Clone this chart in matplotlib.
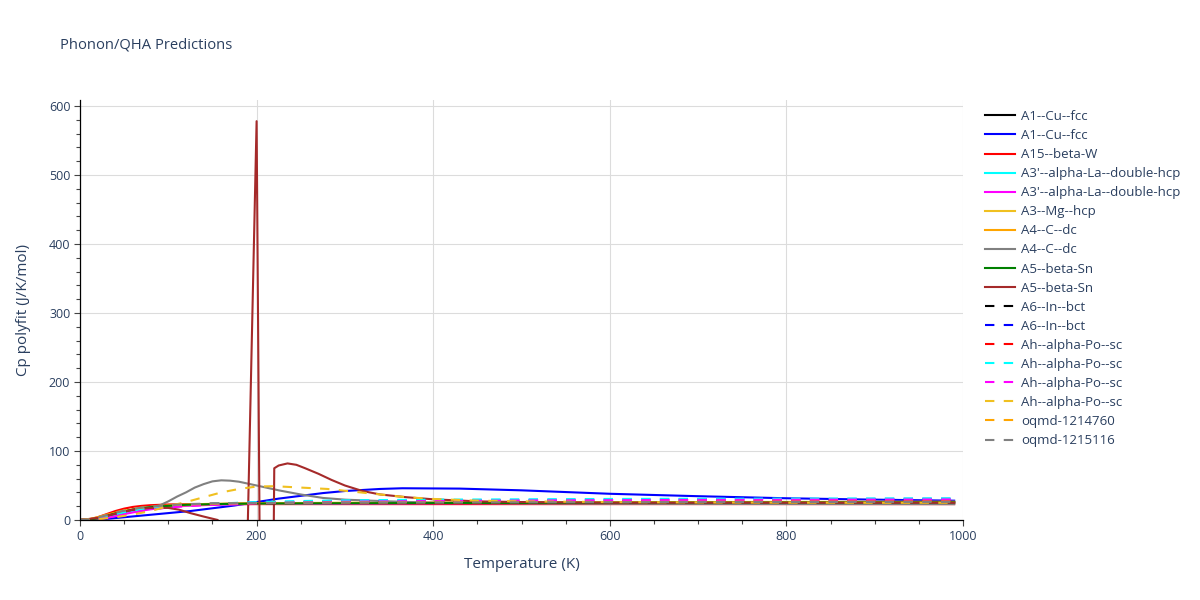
import matplotlib
matplotlib.use("Agg")
import matplotlib.pyplot as plt
from matplotlib.ticker import MultipleLocator

# ---------------- data ----------------
T_common = [0, 10, 20, 30, 40, 50, 60, 70, 80, 90, 100, 120, 150, 200, 250, 300,
            400, 500, 600, 700, 800, 900, 990]

cu_fcc_1 = [0, 0.3, 2, 5, 8.5, 12, 15, 17, 18.5, 19.5, 20.5, 22, 23, 24, 24.3, 24.5,
            24.8, 25, 25.2, 25.4, 25.6, 25.8, 26]
T_cu_fcc_2 = [0, 25, 50, 75, 100, 125, 150, 175, 200, 225, 250, 275, 300, 340, 365,
              430, 500, 600, 700, 800, 900, 990]
cu_fcc_2 = [0, 1, 4, 7, 10, 13, 17, 21, 26, 31, 35, 39, 42, 45, 46,
            45.5, 43, 38, 34.5, 31.5, 29.5, 28]
beta_w = [0, 0.8, 4, 8.5, 13, 16.5, 19, 20.5, 21.5, 22, 22.5, 23, 23, 23, 23, 23,
          23, 23, 23, 23, 23, 23, 23]
la_dhcp_1 = [0, 0.3, 1.5, 4, 7, 10, 13, 15, 17, 18.5, 19.5, 21, 22.5, 23.5, 24, 24.3,
             24.6, 24.8, 25, 25.2, 25.4, 25.5, 25.6]
la_dhcp_2 = [0, 0.2, 1.2, 3, 5.5, 8.5, 11, 13.5, 15.5, 17, 18.5, 20.5, 22, 23.3, 23.8, 24,
             24.2, 24.4, 24.6, 24.8, 25, 25.1, 25.2]
mg_hcp = [0, 0.5, 3, 6.5, 10, 13, 15.5, 17.5, 19, 20, 21, 22.5, 23.5, 24.2, 24.6, 24.9,
          25.2, 25.5, 25.7, 26, 26.2, 26.4, 26.5]
c_dc_1 = [0, 1.2, 4, 7.5, 10.5, 13, 15, 16.5, 18, 19, 20, 21.5, 23, 24, 24.5, 24.8,
          25, 25.2, 25.4, 25.6, 25.8, 26, 26]
T_c_dc_2 = [0, 20, 40, 60, 80, 90, 100, 110, 120, 130, 140, 150, 160, 170, 180, 200,
            225, 250, 275, 300, 350, 400, 500, 600, 700, 800, 900, 990]
c_dc_2 = [0, 2, 9, 15, 19, 21, 27, 34, 40, 47, 52, 56, 57.5, 57, 55.5, 50,
          43, 37, 32, 29.5, 27, 25, 24, 23.5, 23.3, 23.2, 23.1, 23]
sn_beta_1 = [0, 0.5, 2.5, 6, 9.5, 12.5, 15, 17, 18.5, 19.5, 20.5, 22, 23, 23.8, 24.1, 24.3,
             24.5, 24.7, 24.9, 25.1, 25.3, 25.4, 25.5]
T_sn_beta_2 = [0, 20, 40, 60, 80, 100, 112, 125, 140, 156, 170, 185, 200, 205, 217.5,
               220, 225, 235, 245, 255, 270, 285, 300, 320, 340, 370, 400, 450, 500,
               600, 700, 800, 900, 990]
sn_beta_2 = [0, 3, 9, 15, 17.5, 17.5, 15, 10, 5, 0, -100, -300, 578, -300, -300,
             75, 79, 82, 80, 75, 67, 58, 50, 42, 37, 33, 30, 27, 26,
             25, 25, 25, 25, 25]
in_bct_1 = [0, 0.6, 3, 6.5, 10, 13, 15.5, 17.5, 19, 20, 21, 22.5, 23.5, 24.3, 24.7, 25,
            25.3, 25.6, 25.9, 26.1, 26.3, 26.5, 26.7]
in_bct_2 = [0, 0.4, 2, 5, 8.5, 11.5, 14, 16, 17.5, 18.5, 19.5, 21.5, 23.5, 25.5, 26.5, 27.5,
            28.5, 29, 29.5, 30, 30.3, 30.6, 30.8]
po_sc_1 = [0, 0.5, 2.5, 5.5, 9, 12, 14.5, 16.5, 18, 19, 20, 21.5, 23, 24.5, 25.3, 25.8,
           26.4, 26.8, 27.1, 27.4, 27.6, 27.8, 28]
po_sc_2 = [0, 0.3, 1.8, 4.5, 8, 11, 13.5, 15.5, 17, 18.5, 19.5, 21.5, 23.5, 26, 27.5, 28.5,
           29.5, 30, 30.5, 30.8, 31, 31.2, 31.4]
po_sc_3 = [0, 0.2, 1, 3, 5.5, 8, 10.5, 13, 15, 16.5, 18, 20, 22, 24, 25.5, 26.5,
           27.5, 28.2, 28.7, 29.1, 29.4, 29.6, 29.8]
T_po_sc_4 = [0, 20, 40, 60, 80, 100, 120, 140, 160, 180, 200, 220, 250, 280, 310, 340,
             370, 400, 450, 500, 600, 700, 800, 900, 990]
po_sc_4 = [0, 1, 4, 8, 13, 20, 26, 33, 40, 45, 48.5, 49, 47, 45, 41, 37,
           33, 30.5, 28, 27, 26, 25.5, 25.2, 25, 25]
oqmd_1214760 = [0, 1, 4, 7.5, 11, 14, 16.5, 18, 19.5, 20.5, 21.5, 22.5, 23.5, 24.5, 25, 25.3,
                25.6, 25.9, 26.1, 26.3, 26.5, 26.6, 26.7]
oqmd_1215116 = [0, 0.8, 3.5, 7, 10.5, 13.5, 16, 18, 19.5, 20.5, 21.5, 23, 24, 24.7, 25, 25.2,
                25.4, 25.6, 25.8, 26, 26.1, 26.2, 26.3]

series = [
    ("A1--Cu--fcc", T_common, cu_fcc_1, "black", "solid"),
    ("A1--Cu--fcc", T_cu_fcc_2, cu_fcc_2, "blue", "solid"),
    ("A15--beta-W", T_common, beta_w, "red", "solid"),
    ("A3'--alpha-La--double-hcp", T_common, la_dhcp_1, "cyan", "solid"),
    ("A3'--alpha-La--double-hcp", T_common, la_dhcp_2, "magenta", "solid"),
    ("A3--Mg--hcp", T_common, mg_hcp, "#f0c020", "solid"),
    ("A4--C--dc", T_common, c_dc_1, "orange", "solid"),
    ("A4--C--dc", T_c_dc_2, c_dc_2, "gray", "solid"),
    ("A5--beta-Sn", T_common, sn_beta_1, "green", "solid"),
    ("A5--beta-Sn", T_sn_beta_2, sn_beta_2, "brown", "solid"),
    ("A6--In--bct", T_common, in_bct_1, "black", "dash"),
    ("A6--In--bct", T_common, in_bct_2, "blue", "dash"),
    ("Ah--alpha-Po--sc", T_common, po_sc_1, "red", "dash"),
    ("Ah--alpha-Po--sc", T_common, po_sc_2, "cyan", "dash"),
    ("Ah--alpha-Po--sc", T_common, po_sc_3, "magenta", "dash"),
    ("Ah--alpha-Po--sc", T_po_sc_4, po_sc_4, "#f0c020", "dash"),
    ("oqmd-1214760", T_common, oqmd_1214760, "orange", "dash"),
    ("oqmd-1215116", T_common, oqmd_1215116, "gray", "dash"),
]

# ---------------- plot ----------------
TXT = "#2a3f5f"
plt.rcParams["font.family"] = ["Open Sans", "DejaVu Sans"]

fig = plt.figure(figsize=(12, 6), dpi=100)
ax = fig.add_axes([80 / 1200, 1 - 520 / 600, (963 - 80) / 1200, (520 - 100) / 600])

lw = 1.5
for name, t, v, c, style in series:
    if style == "dash":
        ax.plot(t, v, color=c, lw=lw, label=name, dashes=(4.5, 4.5))
    else:
        ax.plot(t, v, color=c, lw=lw, label=name)

ax.set_xlim(0, 1000)
ax.set_ylim(0, 608.7)
ax.xaxis.set_major_locator(MultipleLocator(200))
ax.xaxis.set_minor_locator(MultipleLocator(50))
ax.yaxis.set_major_locator(MultipleLocator(100))
ax.yaxis.set_minor_locator(MultipleLocator(20))
ax.grid(True, which="major", color="#dcdcdc", lw=0.8)
ax.set_axisbelow(True)
for s in ("top", "right"):
    ax.spines[s].set_visible(False)
for s in ("left", "bottom"):
    ax.spines[s].set_color("black")
    ax.spines[s].set_linewidth(0.9)
ax.tick_params(which="major", length=4, width=0.8, color="#444", labelsize=9,
               labelcolor=TXT, pad=3)
ax.tick_params(which="minor", length=3, width=0.8, color="#444")

ax.set_xlabel("Temperature (K)", fontsize=11, color=TXT, labelpad=10)
ax.set_ylabel("Cp polyfit (J/K/mol)", fontsize=11, color=TXT, labelpad=13)

fig.text(60 / 1200, 1 - 45 / 600, "Phonon/QHA Predictions", fontsize=10.6,
         color=TXT, va="center", ha="left")

leg = ax.legend(loc="upper left", bbox_to_anchor=(985 / 1200, 1 - 110 / 600),
                bbox_transform=fig.transFigure, frameon=False, fontsize=9.5,
                handlelength=2.3, handletextpad=0.45, labelspacing=0.46,
                borderpad=0, borderaxespad=0)
for t in leg.get_texts():
    t.set_color(TXT)

fig.savefig("out.png", dpi=100)
